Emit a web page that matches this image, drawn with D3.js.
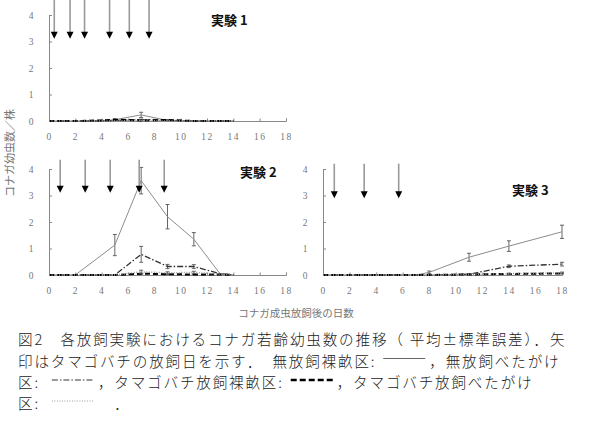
<!DOCTYPE html>
<html><head><meta charset="utf-8">
<script src="https://cdn.jsdelivr.net/npm/d3@7/dist/d3.min.js"></script>
<style>body{margin:0;background:#fff}svg{display:block}.cap{white-space:pre}</style>
</head><body>
<svg id="c" width="600" height="440"></svg>
<script>
// ---- data ----
const xTicks = [0,2,4,6,8,10,12,14,16,18];
const yTicks = [0,1,2,3,4];
const seriesNames = ["無放飼裸畝区","無放飼べたがけ区","タマゴバチ放飼裸畝区","タマゴバチ放飼べたがけ区"];
const titles = ["実験 1","実験 2","実験 3"];

// 実験1
const days1 = [0,2,4,5,7,9,11,14];
const e1_bare   = [0,0,0,0.05,0.23,0.02,0,0];
const e1_bareSE = [0,0,0,0.03,0.10,0.01,0,0];
const e1_cover  = [0,0,0,0.02,0.05,0.03,0,0];
const e1_coverSE= [0,0,0,0,0.02,0.01,0,0];
const e1_relB   = [0,0,0.02,0.05,0.02,0.04,0,0];
const e1_relBSE = [0,0,0.01,0.02,0,0.01,0,0];
const e1_relC   = [0,0,0,0,0.02,0,0,0];
const e1_relCSE = [0,0,0,0,0.01,0,0,0];
const arrows1 = [0.4,1.6,2.7,4.6,6.1,7.6];

// 実験2
const days2 = [0,2,5,7,9,11,13,14];
const e2_bare   = [0,0,1.13,3.56,2.2,1.35,0.04,0];
const e2_bareSE = [0,0,0.40,0.50,0.46,0.25,0,0];
const e2_cover  = [0,0,0,0.78,0.32,0.32,0.05,0];
const e2_coverSE= [0,0,0,0.30,0.08,0.07,0,0];
const e2_relB   = [0,0,0,0.05,0.03,0.02,0.02,0];
const e2_relBSE = [0,0,0,0.02,0.01,0.01,0,0];
const e2_relC   = [0,0,0,0.12,0.08,0.10,0.03,0];
const e2_relCSE = [0,0,0,0.06,0.04,0.04,0,0];
const arrows2 = [0.85,2.75,4.65,6.85,8.75];

// 実験3
const days3 = [0,2,4,7,8,11,14,18];
const e3_bare   = [0,0,0,0,0.1,0.67,1.09,1.63];
const e3_bareSE = [0,0,0,0,0.05,0.15,0.20,0.25];
const e3_cover  = [0,0,0,0,0,0.03,0.33,0.41];
const e3_coverSE= [0,0,0,0,0,0.01,0.05,0.07];
const e3_relB   = [0,0,0,0,0,0.02,0.04,0.06];
const e3_relBSE = [0,0,0,0,0,0,0.01,0.02];
const e3_relC   = [0,0,0,0,0,0.02,0.05,0.08];
const e3_relCSE = [0,0,0,0,0,0,0.02,0.03];
const arrows3 = [0.85,3.1,5.7];

const arrowTop = [4.6,4.35,4.2];
const arrowTip = [3.1,3.1,2.9];

// ---- styles ----
const styles = [
  {stroke:"#8c8c8c", width:1, dash:null},
  {stroke:"#333", width:1.3, dash:"6,2,1.5,2"},
  {stroke:"#000", width:2, dash:"5,3"},
  {stroke:"#9a9a9a", width:1.5, dash:"1,1.5"}
];

const svg = d3.select("#c");
const panels = [
  {x0:49,x1:286,y0:121,y4:15, days:days1, data:[[e1_bare,e1_bareSE],[e1_cover,e1_coverSE],[e1_relB,e1_relBSE],[e1_relC,e1_relCSE]], arrows:arrows1, title:titles[0], tx:211, ty:25},
  {x0:49,x1:286,y0:275,y4:169, days:days2, data:[[e2_bare,e2_bareSE],[e2_cover,e2_coverSE],[e2_relB,e2_relBSE],[e2_relC,e2_relCSE]], arrows:arrows2, title:titles[1], tx:240, ty:177},
  {x0:323,x1:562,y0:275,y4:169, days:days3, data:[[e3_bare,e3_bareSE],[e3_cover,e3_coverSE],[e3_relB,e3_relBSE],[e3_relC,e3_relCSE]], arrows:arrows3, title:titles[2], tx:512, ty:195}
];

panels.forEach((p,pi)=>{
  const x = d3.scaleLinear().domain([0,18]).range([p.x0,p.x1]);
  const y = d3.scaleLinear().domain([0,4]).range([p.y0,p.y4]);
  const g = svg.append("g");

  const ax = g.append("g").attr("transform",`translate(0,${p.y0})`)
    .call(d3.axisBottom(x).tickValues(xTicks).tickSize(-2.5).tickPadding(12).tickFormat(d=>String(d)));
  const ay = g.append("g").attr("transform",`translate(${p.x0},0)`)
    .call(d3.axisLeft(y).tickValues(yTicks).tickSize(-3).tickPadding(14).tickFormat(d=>String(d)));
  [ax,ay].forEach(a=>{
    a.attr("font-family","Liberation Serif");
    a.select(".domain").attr("stroke","#888").attr("stroke-width",1);
    a.selectAll(".tick line").attr("stroke","#888");
    a.selectAll(".tick text").attr("fill","#777").attr("font-family","Liberation Serif")
      .attr("font-size",9.5).attr("letter-spacing","1.5px");
  });

  p.data.forEach((sd,si)=>{
    const vals = sd[0], se = sd[1], st = styles[si];
    const pts = p.days.map((d,i)=>[d,vals[i],se[i]]);
    const line = d3.line().x(d=>x(d[0])).y(d=>y(d[1]));
    pts.filter(d=>d[2]>0).forEach(d=>{
      const cx = x(d[0]);
      g.append("line").attr("x1",cx).attr("x2",cx).attr("y1",y(d[1]-d[2])).attr("y2",y(d[1]+d[2]))
        .attr("stroke","#555").attr("stroke-width",0.9);
      [d[1]-d[2],d[1]+d[2]].forEach(v=>{
        g.append("line").attr("x1",cx-2).attr("x2",cx+2).attr("y1",y(v)).attr("y2",y(v))
          .attr("stroke","#555").attr("stroke-width",0.9);
      });
    });
    g.append("path").datum(pts).attr("d",line).attr("fill","none")
      .attr("stroke",st.stroke).attr("stroke-width",st.width)
      .attr("stroke-dasharray",st.dash);
  });

  p.arrows.forEach(a=>{
    const cx = x(a), tip = y(arrowTip[pi]), top = Math.max(0,y(arrowTop[pi]));
    g.append("line").attr("x1",cx).attr("x2",cx).attr("y1",top).attr("y2",tip-5)
      .attr("stroke","#999").attr("stroke-width",1.6);
    g.append("path").attr("d",`M${cx-3.5},${tip-7}L${cx+3.5},${tip-7}L${cx},${tip}Z`).attr("fill","#000");
  });

  g.append("text").attr("x",p.tx).attr("y",p.ty).text(p.title)
    .attr("font-family","Noto Sans CJK JP").attr("font-weight",700).attr("font-size",13).attr("fill","#111");
});

svg.append("text").attr("transform","translate(14,153) rotate(-90)").attr("text-anchor","middle")
  .attr("font-family","Noto Sans CJK JP").attr("font-size",11).attr("fill","#777").text("コナガ幼虫数／株");
svg.append("text").attr("x",296).attr("y",317).attr("text-anchor","middle")
  .attr("font-family","Noto Sans CJK JP").attr("font-size",10.5).attr("fill","#777").text("コナガ成虫放飼後の日数");

// caption
const capLines = [
  [{t:"図2　各放飼実験におけるコナガ若齢幼虫数の推移（ 平均±標準誤差）．矢"}],
  [{t:"印はタマゴバチの放飼日を示す．　無放飼裸畝区: "},{s:0},{t:"，無放飼べたがけ"}],
  [{t:"区:  "},{s:1},{t:"，タマゴバチ放飼裸畝区: "},{s:2},{t:"，タマゴバチ放飼べたがけ"}],
  [{t:"区:  "},{s:3},{t:"　．"}]
];
const capY = [345,366.5,388,409];
const capFont = 14.6;
const capLS = 1.8;
capLines.forEach((segs,li)=>{
  let cx = 18;
  segs.forEach(sg=>{
    if (sg.t!==undefined){
      const t = svg.append("text").attr("class","cap").attr("x",cx).attr("y",capY[li]).text(sg.t)
        .attr("xml:space","preserve")
        .attr("font-family","Noto Sans CJK JP").attr("font-size",capFont).attr("letter-spacing",capLS+"px")
        .attr("fill","#222").attr("font-weight",300);
      cx += t.node().getComputedTextLength();
    } else {
      const st = styles[sg.s];
      const yy = capY[li]-8;
      svg.append("line").attr("x1",cx+2).attr("x2",cx+44).attr("y1",yy).attr("y2",yy)
        .attr("stroke",sg.s===0?"#666":st.stroke).attr("stroke-width",sg.s===2?2.5:1)
        .attr("stroke-dasharray",sg.s===2?"6,3":st.dash);
      cx += 48;
    }
  });
});
</script>
</body></html>
